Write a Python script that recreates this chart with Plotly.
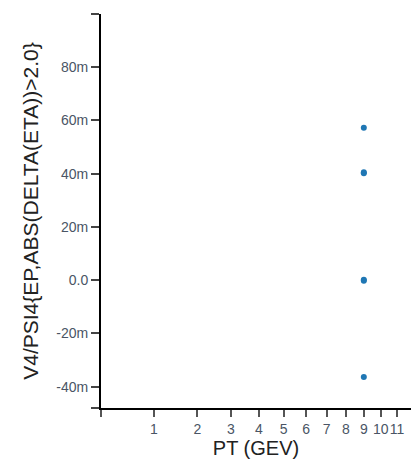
import numpy as np
import plotly.graph_objects as go

# data
pt = [9, 9, 9, 9, 9, 9]
v4 = [57.3e-3, 40.6e-3, 40.2e-3, 0.2e-3, -0.2e-3, -36.4e-3]

x_ticks = [1, 2, 3, 4, 5, 6, 7, 8, 9, 10, 11]
x_tick_text = ["1", "2", "3", "4", "5", "6", "7", "8", "9", "10", "11"]
y_ticks = [-40e-3, -20e-3, 0.0, 20e-3, 40e-3, 60e-3, 80e-3]
y_tick_text = ["-40m", "-20m", "0.0", "20m", "40m", "60m", "80m"]

x_range = [0.245, 11.9]
y_range = [-48e-3, 100e-3]

sq = np.sqrt  # square-root x scale

fig = go.Figure()
fig.add_trace(go.Scatter(
    x=sq(pt), y=v4, mode="markers",
    marker=dict(color="#1f77b4", size=6),
    showlegend=False, cliponaxis=False,
))

fig.update_layout(
    width=411, height=459,
    margin=dict(l=101, r=0, t=14, b=51),
    plot_bgcolor="white", paper_bgcolor="white",
    font=dict(family="Liberation Sans, Arial, sans-serif"),
    xaxis=dict(
        range=[sq(x_range[0]), sq(x_range[1])],
        tickvals=list(sq(x_ticks)) + [sq(x_range[0])],
        ticktext=x_tick_text + [""],
        ticks="outside", ticklen=7, tickwidth=1.5, tickcolor="#555",
        showline=True, linecolor="black", linewidth=2,
        showgrid=False, zeroline=False, tickangle=0,
        tickfont=dict(size=14, color="#4a5565"),
        title=dict(text="PT (GEV)", font=dict(size=20, color="#222"), standoff=2),
        automargin=False,
    ),
    yaxis=dict(
        range=y_range,
        tickvals=y_ticks + [y_range[0], y_range[1]],
        ticktext=y_tick_text + ["", ""],
        ticks="outside", ticklen=8, tickwidth=1.5, tickcolor="#444",
        showline=True, linecolor="black", linewidth=2,
        showgrid=False, zeroline=False,
        tickfont=dict(size=14, color="#4a5565"),
        title=dict(text="V4/PSI4{EP,ABS(DELTA(ETA))>2.0}", font=dict(size=21, color="#222"), standoff=12),
        automargin=False,
    ),
)

fig.write_html("out.html")
